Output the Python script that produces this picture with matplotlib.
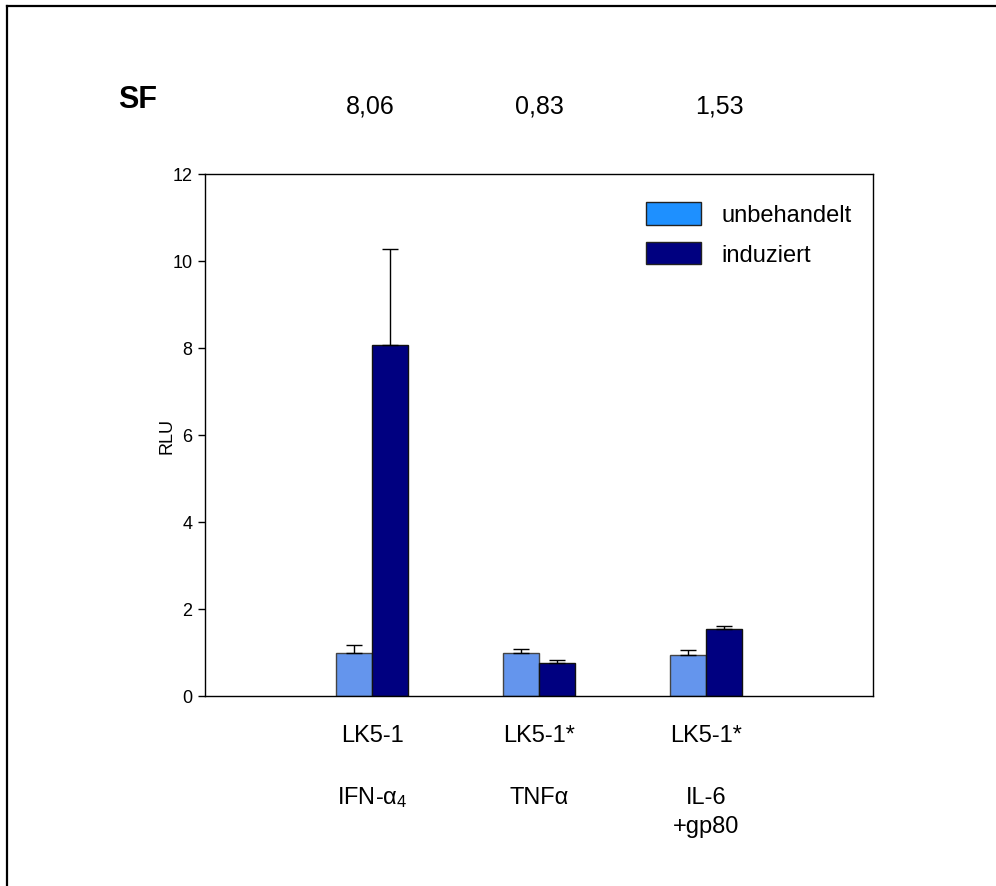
import matplotlib
matplotlib.use("Agg")
import matplotlib.pyplot as plt
from matplotlib.patches import Patch
from matplotlib.lines import Line2D
import numpy as np

plt.rcParams['font.family'] = ['Liberation Sans', 'DejaVu Sans']
plt.rcParams['mathtext.fontset'] = 'custom'
plt.rcParams['mathtext.rm'] = 'Liberation Sans'
plt.rcParams['mathtext.it'] = 'Liberation Sans:italic'
plt.rcParams['mathtext.bf'] = 'Liberation Sans:bold'

# ---- data ----
labels_line1 = ['LK5-1', 'LK5-1*', 'LK5-1*']
labels_line2 = [r'IFN-α$_\mathregular{4}$', 'TNFα', 'IL-6\n+gp80']
untreated = [1.00, 0.98, 0.95]
untreated_err = [0.17, 0.09, 0.10]
induced = [8.06, 0.76, 1.53]
induced_err = [2.22, 0.07, 0.09]
sf_values = ['8,06', '0,83', '1,53']
series_names = ['unbehandelt', 'induziert']
yticks = [0, 2, 4, 6, 8, 10, 12]

# layout
sf_x_offsets = [-0.01, 0.0, 0.08]

W, H = 996, 887
fig = plt.figure(figsize=(W / 100, H / 100), dpi=100)
ax = fig.add_axes([205 / W, 1 - 697 / H, (873 - 205) / W, (697 - 175) / H])

x = np.arange(1, len(untreated) + 1)
w = 0.214
light = '#6495ED'
dark = '#000080'
ax.bar(x - w / 2, untreated, w, color=light, edgecolor='#444444', linewidth=1.0,
       yerr=[np.zeros(len(untreated)), untreated_err], capsize=6,
       error_kw=dict(elinewidth=1.0, capthick=1.0, ecolor='black'), zorder=2)
ax.bar(x + w / 2, induced, w, color=dark, edgecolor='#111111', linewidth=1.0,
       yerr=[np.zeros(len(induced)), induced_err], capsize=6,
       error_kw=dict(elinewidth=1.0, capthick=1.0, ecolor='black'), zorder=2)

ax.set_xlim(0, 4)
ax.set_ylim(0, 12)
ax.set_yticks(yticks)
ax.set_xticks([])
ax.tick_params(axis='y', direction='out', length=5, width=1, labelsize=13, pad=4)
for s in ax.spines.values():
    s.set_linewidth(1.0)
ax.set_ylabel('RLU', fontsize=13, labelpad=-2)

# category labels
def fy(py):
    return (697 - py) / (697 - 175)

tr = ax.get_xaxis_transform()
for xi, l1, l2 in zip(x, labels_line1, labels_line2):
    ax.text(xi, fy(736), l1, transform=tr, ha='center', va='center', fontsize=17)
    if '\n' in l2:
        ax.text(xi, fy(787), l2, transform=tr, ha='center', va='top', fontsize=17, linespacing=1.42)
    else:
        ax.text(xi, fy(798), l2, transform=tr, ha='center', va='center', fontsize=17)

# SF values
for xi, off, v in zip(x, sf_x_offsets, sf_values):
    ax.text(xi + off, fy(107), v, transform=tr, ha='center', va='center', fontsize=18)
fig.text(118 / W, 1 - 100 / H, 'SF', fontsize=22, fontweight='bold', ha='left', va='center')

# legend
handles = [Patch(facecolor='#1E90FF', edgecolor='#222222', linewidth=1.0),
           Patch(facecolor=dark, edgecolor='#222222', linewidth=1.0)]
fig.legend(handles, series_names, loc='upper left', bbox_to_anchor=(646 / W, 1 - 203 / H),
           frameon=False, fontsize=17, handlelength=2.35, handleheight=1.1, handletextpad=0.85,
           labelspacing=0.65, borderpad=0, borderaxespad=0)

# outer frame (only top and left visible)
fig.add_artist(Line2D([7 / W, 7 / W], [0, 1 - 7 / H], transform=fig.transFigure, color='black', lw=1.6))
fig.add_artist(Line2D([7 / W, 1], [1 - 7 / H, 1 - 7 / H], transform=fig.transFigure, color='black', lw=1.6))

fig.savefig('out.png', dpi=100)
